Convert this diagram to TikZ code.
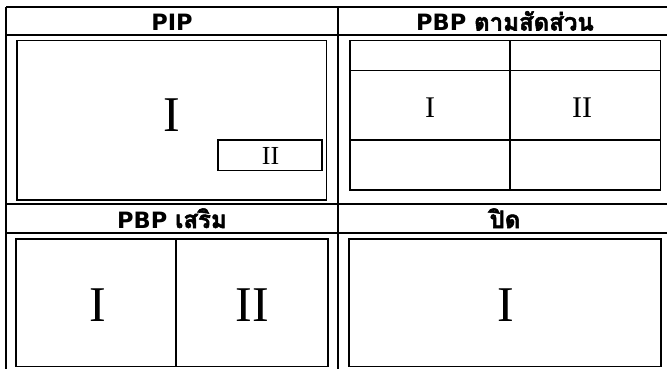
\documentclass[tikz,border=0pt]{standalone}
\usepackage{fontspec}
\setmainfont{Liberation Serif}
\newfontfamily\hdfont{DejaVu Sans}
\newfontfamily\thaifont[Script=Thai,FakeBold=2.2]{Loma}
\usetikzlibrary{calc}

\begin{document}
\begin{tikzpicture}[x=1pt,y=-1pt,
    gridline/.style={line width=1.6pt},
    screen/.style={line width=1.6pt},
    split/.style={line width=1.1pt},
    hd/.style={anchor=base,inner sep=0pt,
        font=\hdfont\bfseries\fontsize{22.5}{22.5}\selectfont},
    big/.style={inner sep=0pt,font=\fontsize{50}{50}\selectfont},
    mid/.style={inner sep=0pt,font=\fontsize{30}{30}\selectfont},
    small/.style={inner sep=0pt,font=\fontsize{26}{26}\selectfont}]
\useasboundingbox (0,0) rectangle (667,369);
\clip (0,0) rectangle (667,369);
\def\xl{6}
\def\xm{337.7}
\def\xr{690}

% table
\foreach \y in {7,35,204,232.7}{
    \draw[gridline] (\xl,\y) -- (\xr,\y);
}
\foreach \x in {\xl,\xm,\xr}{
    \draw[gridline] (\x,7) -- (\x,380);
}

% headers
\node[hd] (hPIP) at (172,30.5) {PIP};
\node[hd] (hPBP) at (505,30.5) {PBP {\thaifont\fontsize{24}{24}\selectfont ตามสัดส่วน}};
\node[hd] (hPBPx) at (172,228) {PBP {\thaifont\fontsize{24}{24}\selectfont เสริม}};
\node[hd] (hOff) at (505,228) {\thaifont\fontsize{24}{24}\selectfont ปิด};

% PIP
\draw[screen] (17,40.5) rectangle (326.5,200);
\draw[screen] (218,140) rectangle (322,170.5);
\node[big] (pipA) at (172,115) {I};
\node[small] (pipB) at (270.5,156) {II};

% PBP aspect
\draw[screen] (350,40.5) rectangle (660.5,190);
\draw[split] (510,40.5) -- (510,190);
\draw[split] (350,70.7) -- (660.5,70.7);
\draw[split] (350,140) -- (660.5,140);
\node[mid] (aspA) at (430,108) {I};
\node[mid] (aspB) at (582,108) {II};

% PBP expand
\draw[screen] (16,239) rectangle (328,366.5);
\draw[split] (176,239) -- (176,366.5);
\node[big] (expA) at (98,305) {I};
\node[big] (expB) at (252,305) {II};

% off
\draw[screen] (349,239) rectangle (661,366.5);
\node[big] (offA) at (505.5,305) {I};
\end{tikzpicture}
\end{document}
